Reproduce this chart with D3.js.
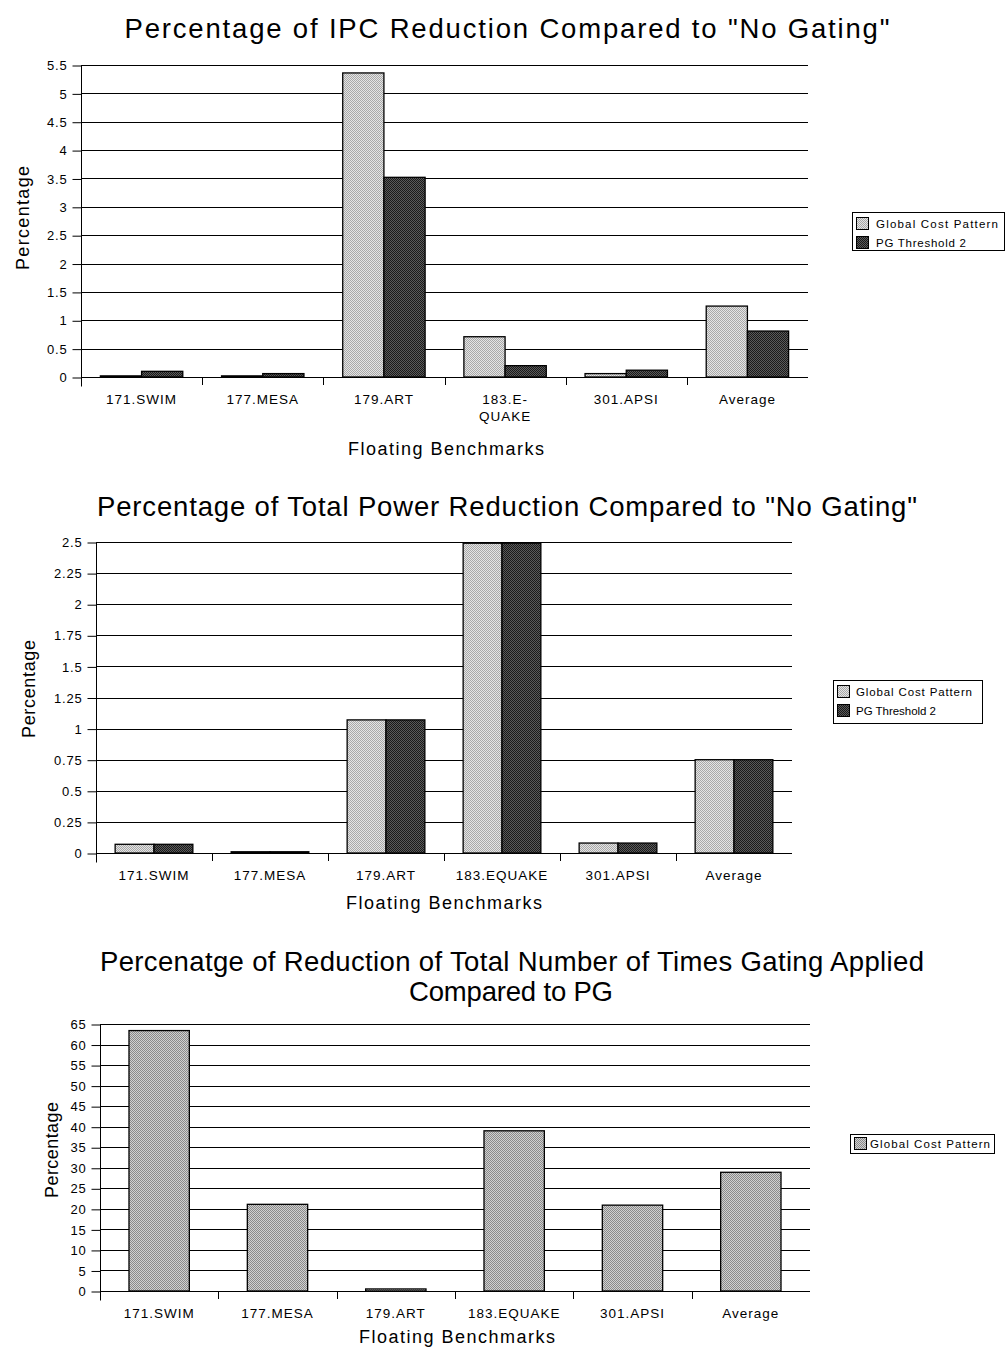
<!DOCTYPE html>
<html>
<head>
<meta charset="utf-8">
<script src="https://cdn.jsdelivr.net/npm/d3@7/dist/d3.min.js"></script>
<style>
  html, body { margin: 0; padding: 0; background: #fff; }
  svg { display: block; font-family: "Liberation Sans", Arial, sans-serif; }
</style>
</head>
<body>
<svg id="page" width="1007" height="1350"></svg>
<script>
// Benchmarks on the x axis
const benchmarks = ["171.SWIM", "177.MESA", "179.ART", "183.EQUAKE", "301.APSI", "Average"];
// The first chart wraps the EQUAKE label over two lines
const benchmarksWrapped = ["171.SWIM", "177.MESA", "179.ART", "183.E-|QUAKE", "301.APSI", "Average"];

const seriesNames = ["Global Cost Pattern", "PG Threshold 2"];

// IPC reduction (%)
const ipcGlobalCost = [0.02, 0.02, 5.36, 0.71, 0.06, 1.25];
const ipcPGThreshold = [0.10, 0.06, 3.52, 0.20, 0.12, 0.81];
const ipcTicks = [0, 0.5, 1, 1.5, 2, 2.5, 3, 3.5, 4, 4.5, 5, 5.5];

// Total power reduction (%)
const powerGlobalCost = [0.07, 0.01, 1.07, 2.49, 0.08, 0.75];
const powerPGThreshold = [0.07, 0.01, 1.07, 2.49, 0.08, 0.75];
const powerTicks = [0, 0.25, 0.5, 0.75, 1, 1.25, 1.5, 1.75, 2, 2.25, 2.5];

// Reduction of the number of times gating is applied (%)
const gatingGlobalCost = [63.4, 21.1, 0.5, 39.0, 20.9, 28.9];
const gatingTicks = [0, 5, 10, 15, 20, 25, 30, 35, 40, 45, 50, 55, 60, 65];

const svg = d3.select("#page");

// Dithered fills, like the halftone shading of the bars
const defs = svg.append("defs");
function dither(id, a, b) {
  const p = defs.append("pattern").attr("id", id)
    .attr("patternUnits", "userSpaceOnUse").attr("width", 2).attr("height", 2);
  p.append("rect").attr("width", 2).attr("height", 2).attr("fill", a);
  p.append("rect").attr("width", 1).attr("height", 1).attr("fill", b);
  p.append("rect").attr("x", 1).attr("y", 1).attr("width", 1).attr("height", 1).attr("fill", b);
}
dither("lightFill", "#e4e4e4", "#a8a8a8");
dither("darkFill", "#5a5a5a", "#1a1a1a");
dither("midFill", "#d0d0d0", "#8a8a8a");

function drawChart(cfg) {
  const g = svg.append("g");
  const [x0, x1] = cfg.xRange;
  const [yTop, yBottom] = cfg.yRange;

  const x = d3.scaleBand().domain(d3.range(benchmarks.length))
    .range([x0, x1]).paddingInner(cfg.pad).paddingOuter(cfg.pad / 2);
  const xs = d3.scaleBand().domain(d3.range(cfg.series.length))
    .range([0, x.bandwidth()]);
  const y = d3.scaleLinear().domain([0, cfg.ticks[cfg.ticks.length - 1]])
    .range([yBottom, yTop]);

  // Title
  cfg.title.forEach((t, i) => {
    g.append("text").attr("x", cfg.titleX[i]).attr("y", cfg.titleY + i * 30)
      .attr("text-anchor", "middle").attr("font-size", 27.5)
      .attr("textLength", cfg.titleLen[i]).attr("lengthAdjust", "spacing")
      .attr("fill", "#000").text(t);
  });

  // Horizontal gridlines
  g.append("g").selectAll("line").data(cfg.ticks).join("line")
    .attr("x1", x0).attr("x2", x1)
    .attr("y1", d => Math.round(y(d)) + 0.5).attr("y2", d => Math.round(y(d)) + 0.5)
    .attr("stroke", "#000").attr("stroke-width", 1);

  // Y axis
  const yAxis = d3.axisLeft(y).tickValues(cfg.ticks).tickSize(9).tickPadding(5)
    .tickFormat(d => String(d));
  const ya = g.append("g").attr("transform", `translate(${x0 + 0.5},0.5)`).call(yAxis);
  ya.select(".domain").attr("d", `M0,${yTop}V${yBottom + 9}`).attr("stroke", "#000");
  ya.selectAll(".tick line").attr("stroke", "#000");
  ya.selectAll(".tick text").attr("font-size", 13).attr("letter-spacing", 0.8)
    .attr("fill", "#000").attr("font-family", "'Liberation Sans', Arial, sans-serif");

  // Bars
  cfg.series.forEach((vals, s) => {
    g.append("g").selectAll("rect").data(vals).join("rect")
      .attr("x", (d, i) => x(i) + xs(s))
      .attr("y", d => y(d))
      .attr("width", xs.bandwidth())
      .attr("height", d => Math.max(0, y(0) - y(d)))
      .attr("fill", cfg.fills[s])
      .attr("stroke", "#000").attr("stroke-width", 1.3);
  });

  // X axis with ticks between categories
  const step = x.step();
  g.append("line").attr("x1", x0).attr("x2", x1)
    .attr("y1", yBottom + 0.5).attr("y2", yBottom + 0.5).attr("stroke", "#000");
  g.append("g").selectAll("line").data(d3.range(1, benchmarks.length)).join("line")
    .attr("x1", i => Math.round(x0 + i * step) + 0.5).attr("x2", i => Math.round(x0 + i * step) + 0.5)
    .attr("y1", yBottom).attr("y2", yBottom + 8).attr("stroke", "#000");

  // Category labels
  cfg.labels.forEach((lab, i) => {
    const lines = lab.split("|");
    const t = g.append("text").attr("text-anchor", "middle")
      .attr("font-size", 13.5).attr("letter-spacing", 1).attr("fill", "#000");
    lines.forEach((ln, k) => {
      t.append("tspan").attr("x", x(i) + x.bandwidth() / 2)
        .attr("y", yBottom + 27 + k * 17).text(ln);
    });
  });

  // Axis titles
  g.append("text").attr("x", cfg.xTitle[0]).attr("y", cfg.xTitle[1])
    .attr("text-anchor", "middle").attr("font-size", 18).attr("fill", "#000")
    .attr("textLength", 196).attr("lengthAdjust", "spacing")
    .text("Floating Benchmarks");
  g.append("text")
    .attr("transform", `translate(${cfg.yTitle[0]},${cfg.yTitle[1]}) rotate(-90)`)
    .attr("text-anchor", "middle").attr("font-size", 18).attr("fill", "#000")
    .attr("textLength", cfg.yTitleLen).attr("lengthAdjust", "spacing")
    .text("Percentage");

  // Legend
  const [lx, ly, lw, lh] = cfg.legend;
  const lg = g.append("g");
  lg.append("rect").attr("x", lx + 0.5).attr("y", ly + 0.5).attr("width", lw).attr("height", lh)
    .attr("fill", "#fff").attr("stroke", "#000").attr("stroke-width", 1);
  cfg.series.forEach((_, s) => {
    const cy = ly + cfg.legendRow0 + s * cfg.legendGap;
    lg.append("rect").attr("x", lx + 4.5).attr("y", cy - 6.5).attr("width", 12).attr("height", 12)
      .attr("fill", cfg.fills[s]).attr("stroke", "#000");
    lg.append("text").attr("x", cfg.legendTextX).attr("y", cy + 4)
      .attr("font-size", 11.5).attr("fill", "#000")
      .attr("textLength", cfg.legendLens[s]).attr("lengthAdjust", "spacing")
      .text(seriesNames[s]);
  });
}

drawChart({
  title: ["Percentage of IPC Reduction Compared to \"No Gating\""],
  titleX: [507], titleY: 38, titleLen: [765],
  xRange: [81, 808], yRange: [65, 377],
  pad: 0.32,
  ticks: ipcTicks,
  series: [ipcGlobalCost, ipcPGThreshold],
  fills: ["url(#lightFill)", "url(#darkFill)"],
  labels: benchmarksWrapped,
  xTitle: [446, 455], yTitle: [29, 218], yTitleLen: 104,
  legend: [852, 212, 152, 38], legendRow0: 12, legendGap: 19,
  legendTextX: 876, legendLens: [122, 90]
});

drawChart({
  title: ["Percentage of Total Power Reduction Compared to \"No Gating\""],
  titleX: [507], titleY: 516, titleLen: [820],
  xRange: [96, 792], yRange: [542, 853],
  pad: 0.33,
  ticks: powerTicks,
  series: [powerGlobalCost, powerPGThreshold],
  fills: ["url(#lightFill)", "url(#darkFill)"],
  labels: benchmarks,
  xTitle: [444, 909], yTitle: [35, 689], yTitleLen: 98,
  legend: [833, 680, 149, 43], legendRow0: 12, legendGap: 19,
  legendTextX: 856, legendLens: [116, 80]
});

drawChart({
  title: ["Percenatge of Reduction of Total Number of Times Gating Applied", "Compared to PG"],
  titleX: [512, 511], titleY: 971, titleLen: [824, 204],
  xRange: [100, 810], yRange: [1024, 1291],
  pad: 0.49,
  ticks: gatingTicks,
  series: [gatingGlobalCost],
  fills: ["url(#midFill)"],
  labels: benchmarks,
  xTitle: [457, 1343], yTitle: [58, 1150], yTitleLen: 96,
  legend: [850, 1134, 144, 19], legendRow0: 10, legendGap: 19,
  legendTextX: 870, legendLens: [120]
});
</script>
</body>
</html>
